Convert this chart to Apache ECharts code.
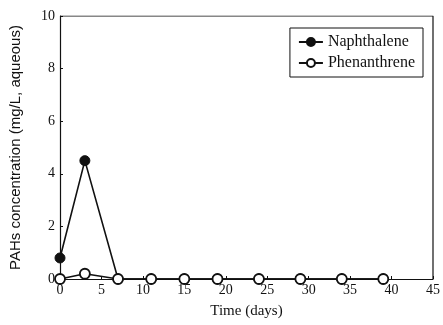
<!DOCTYPE html>
<html>
<head>
<meta charset="utf-8">
<script src="https://cdn.jsdelivr.net/npm/echarts@6/dist/echarts.min.js"></script>
<style>
  html, body { margin: 0; padding: 0; background: #fff; }
  #chart { width: 443px; height: 325px; }
</style>
</head>
<body>
<div id="chart"></div>
<script>
const naphDays = [0, 3, 7, 11, 15, 19, 24, 29, 34, 39];
const naphConc = [0.8, 4.5, 0, 0, 0, 0, 0, 0, 0, 0];
const phenDays = [0, 3, 7, 11, 15, 19, 24, 29, 34, 39];
const phenConc = [0, 0.2, 0, 0, 0, 0, 0, 0, 0, 0];

const FONT = "Liberation Serif";
const INK = "#111";

const pairs = (xs, ys) => xs.map((x, i) => [x, ys[i]]);

const chart = echarts.init(document.getElementById("chart"), null, { renderer: "canvas" });

chart.setOption({
  animation: false,
  backgroundColor: "#fff",
  textStyle: { fontFamily: FONT, color: INK },
  grid: { left: 59, right: 7, top: 16, bottom: 46 },
  legend: {
    right: 20,
    top: 28,
    orient: "vertical",
    backgroundColor: "#fff",
    borderColor: INK,
    borderWidth: 1,
    borderRadius: 0,
    padding: [6, 8, 6, 8],
    itemGap: 5,
    itemWidth: 24,
    itemHeight: 10,
    textStyle: { fontFamily: FONT, fontSize: 16, color: INK },
    data: ["Naphthalene", "Phenanthrene"],
  },
  xAxis: {
    type: "value",
    min: 0,
    max: 45,
    interval: 5,
    name: "Time (days)",
    nameLocation: "middle",
    nameGap: 25,
    nameTextStyle: { fontFamily: FONT, fontSize: 15, color: INK },
    axisLine: { show: true, onZero: false, lineStyle: { color: INK, width: 1.2 } },
    axisTick: { show: true, inside: true, length: 3, lineStyle: { color: INK } },
    axisLabel: { fontFamily: FONT, fontSize: 14, color: INK, margin: 4 },
    splitLine: { show: false },
  },
  yAxis: {
    type: "value",
    min: 0,
    max: 10,
    interval: 2,
    name: "PAHs concentration (mg/L, aqueous)",
    nameLocation: "middle",
    nameGap: 37,
    nameTextStyle: { fontFamily: "Liberation Sans", fontSize: 15, color: INK },
    axisLine: { show: true, lineStyle: { color: INK, width: 1.2 } },
    axisTick: { show: true, inside: true, length: 3, lineStyle: { color: INK } },
    axisLabel: { fontFamily: FONT, fontSize: 14, color: INK, margin: 5 },
    splitLine: { show: false },
  },
  series: [
    {
      name: "Naphthalene",
      type: "line",
      data: pairs(naphDays, naphConc),
      symbol: "circle",
      symbolSize: 10,
      showAllSymbol: true,
      itemStyle: { color: INK, borderColor: INK, borderWidth: 1 },
      lineStyle: { color: INK, width: 1.6 },
      z: 2,
    },
    {
      name: "Phenanthrene",
      type: "line",
      data: pairs(phenDays, phenConc),
      symbol: "circle",
      symbolSize: 10,
      showAllSymbol: true,
      itemStyle: { color: "#fff", borderColor: INK, borderWidth: 1.8 },
      lineStyle: { color: INK, width: 1.6 },
      z: 3,
    },
    {
      // frame: top and right borders
      type: "line",
      data: [[0, 10], [45, 10], [45, 0]],
      symbol: "none",
      silent: true,
      lineStyle: { color: INK, width: 1.2 },
      z: 1,
    },
  ],
});
</script>
</body>
</html>
